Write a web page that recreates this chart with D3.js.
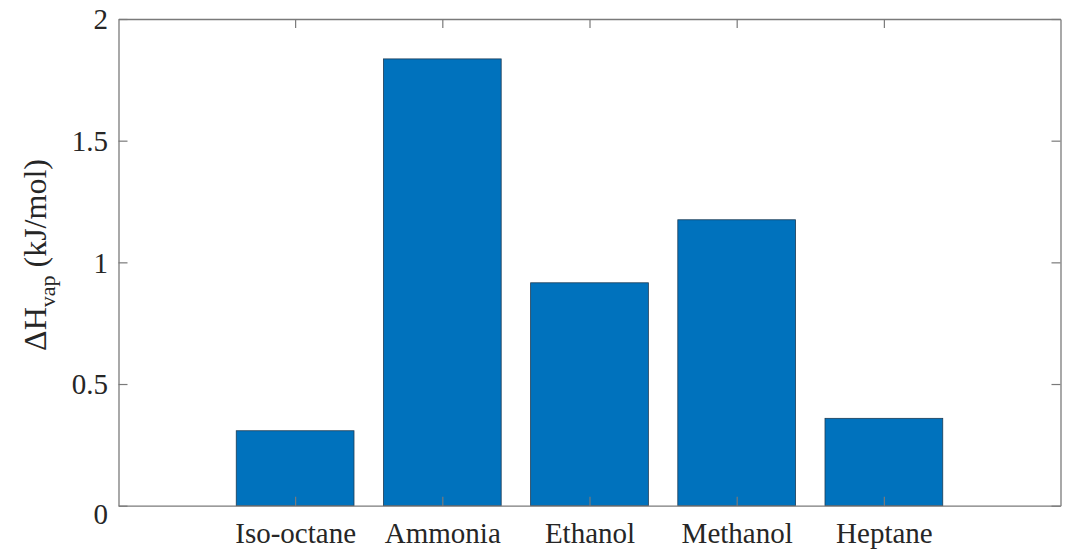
<!DOCTYPE html>
<html>
<head>
<meta charset="utf-8">
<script src="https://cdn.jsdelivr.net/npm/d3@7"></script>
<style>
  body{margin:0;background:#fff;}
  text{font-family:"Liberation Serif","Times New Roman",serif;fill:#262626;}
</style>
</head>
<body>
<svg width="1066" height="554"></svg>
<script>
// data
const fuels = ['Iso-octane','Ammonia','Ethanol','Methanol','Heptane'];
const dHvap = [0.308, 1.836, 0.916, 1.175, 0.359];
const yTicks = [0, 0.5, 1, 1.5, 2];

let svg = d3.select('svg');
let padL = 118.5, padR = 1060.5, padT = 19, padB = 505.7;

// categories sit at 1..5, MATLAB-style limits
let x = d3.scaleLinear().domain([-0.2, 6.2]).range([padL, padR]);
let y = d3.scaleLinear().domain([0, 2]).range([padB, padT]);
let step = x(2) - x(1), bw = step * 0.8;

// bars
svg.append('g').selectAll('rect')
  .data(dHvap)
  .enter().append('rect')
  .attr('x', (d, i) => x(i + 1) - bw / 2)
  .attr('y', d => y(d))
  .attr('width', bw)
  .attr('height', d => y(0) - y(d))
  .attr('fill', '#0072BD')
  .attr('stroke', '#1d3c55')
  .attr('stroke-width', 0.8);

let axisColor = '#7a7a7a';
let tk = 9;

// left axis
let yl = svg.append('g').attr('transform', `translate(${padL},0)`)
  .call(d3.axisLeft(y).tickValues(yTicks).tickSizeInner(-tk).tickSizeOuter(0)
    .tickFormat(d3.format('')).tickPadding(10.5));
// right axis (ticks only)
let yr = svg.append('g').attr('transform', `translate(${padR},0)`)
  .call(d3.axisRight(y).tickValues(yTicks).tickSizeInner(-tk).tickSizeOuter(0).tickFormat(''));
// bottom axis
let xb = svg.append('g').attr('transform', `translate(0,${padB})`)
  .call(d3.axisBottom(x).tickValues(d3.range(1, 6)).tickSizeInner(-tk).tickSizeOuter(0)
    .tickFormat(d => fuels[d - 1]));
// top axis (ticks only)
let xt = svg.append('g').attr('transform', `translate(0,${padT})`)
  .call(d3.axisTop(x).tickValues(d3.range(1, 6)).tickSizeInner(-tk).tickSizeOuter(0).tickFormat(''));

[yl, yr, xb, xt].forEach(g => {
  g.selectAll('.domain').attr('stroke', axisColor).attr('stroke-width', 1.3);
  g.selectAll('.tick line').attr('stroke', axisColor).attr('stroke-width', 1.2);
  g.selectAll('.tick text').attr('fill', '#262626')
    .style('font-family', '"Liberation Serif","Times New Roman",serif')
    .style('font-size', '29px');
});
yl.selectAll('.tick text').attr('dy', d => d === 0 ? '0.6em' : '0.34em');
xb.selectAll('.tick text').attr('y', 37.5).attr('dy', 0);

// y label
let yl2 = svg.append('text')
  .attr('transform', 'translate(46,255) rotate(-90)')
  .attr('text-anchor', 'middle')
  .style('font-size', '32px');
yl2.append('tspan').text('\u0394H');
yl2.append('tspan').attr('dy', 9).style('font-size', '22px').text('vap');
yl2.append('tspan').attr('dy', -9).text(' (kJ/mol)');
</script>
</body>
</html>
